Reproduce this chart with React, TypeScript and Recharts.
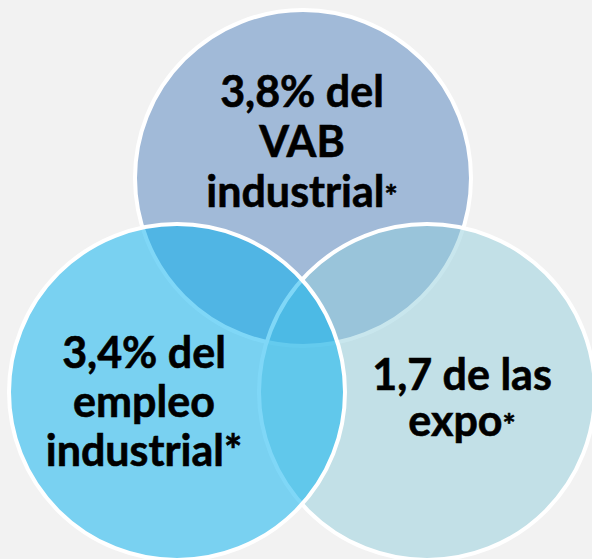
import React from "react";
import { Scatter, ScatterChart, XAxis, YAxis, ZAxis } from "recharts";

// Venn circles, in draw order: top (VAB), right (expo), left (empleo)
const circleNames = ["vab", "expo", "empleo"];
const centerX = [303, 427, 177];
const centerY = [178, 392, 392];
const radius = [168, 168, 168];
const labelLines = [
  ["3,8% del", "VAB", "industrial*"],
  ["1,7 de las", "expo*"],
  ["3,4% del", "empleo", "industrial*"],
];

const fills = ["#4F81BD", "#92CDDC", "#00B0F0"];
// label block offset from circle centre (first baseline), line height, small asterisk
const labelLayout = [
  { dx: -1, dy: -71, lh: 50, smallStar: true },
  { dx: 35, dy: -2, lh: 46, smallStar: true },
  { dx: -33, dy: -24, lh: 49, smallStar: false },
];

const WIDTH = 592;
const HEIGHT = 559;

const data = circleNames.map((name, i) => ({
  name,
  x: centerX[i],
  y: centerY[i],
  r: radius[i],
  idx: i,
}));

const CircleShape = (props: any) => {
  const { cx, cy, size, payload } = props;
  const r = typeof size === "number" ? size : payload.r;
  return (
    <circle
      cx={cx}
      cy={cy}
      r={r}
      fill={fills[payload.idx]}
      fillOpacity={0.5}
      stroke="#FFFFFF"
      strokeWidth={4}
    />
  );
};

const LabelShape = (props: any) => {
  const { cx, cy, payload } = props;
  const layout = labelLayout[payload.idx];
  const lines = labelLines[payload.idx];
  return (
    <g>
      {lines.map((line, j) => {
        const star = line.endsWith("*") && layout.smallStar;
        const body = star ? line.slice(0, -1) : line;
        return (
          <text
            key={j}
            x={cx + layout.dx}
            y={cy + layout.dy + j * layout.lh}
            textAnchor="middle"
            fontFamily="Lato, 'Open Sans', sans-serif"
            fontWeight={700}
            fontSize={43}
            fill="#000000"
            stroke="#000000"
            strokeWidth={0.6}
          >
            {body}
            {star && <tspan fontSize={31}>*</tspan>}
          </text>
        );
      })}
    </g>
  );
};

export default function App() {
  return (
    <div style={{ width: WIDTH, height: HEIGHT, background: "#F2F2F2" }}>
      <style>{"body{margin:0;}"}</style>
      <ScatterChart
        width={WIDTH}
        height={HEIGHT}
        margin={{ top: 0, right: 0, bottom: 0, left: 0 }}
      >
        <XAxis type="number" dataKey="x" domain={[0, WIDTH]} hide />
        <YAxis type="number" dataKey="y" domain={[0, HEIGHT]} reversed hide />
        <ZAxis type="number" dataKey="r" domain={[0, WIDTH]} range={[0, WIDTH]} />
        <Scatter data={data} shape={CircleShape} isAnimationActive={false} />
        <Scatter data={data} shape={LabelShape} isAnimationActive={false} />
      </ScatterChart>
    </div>
  );
}
